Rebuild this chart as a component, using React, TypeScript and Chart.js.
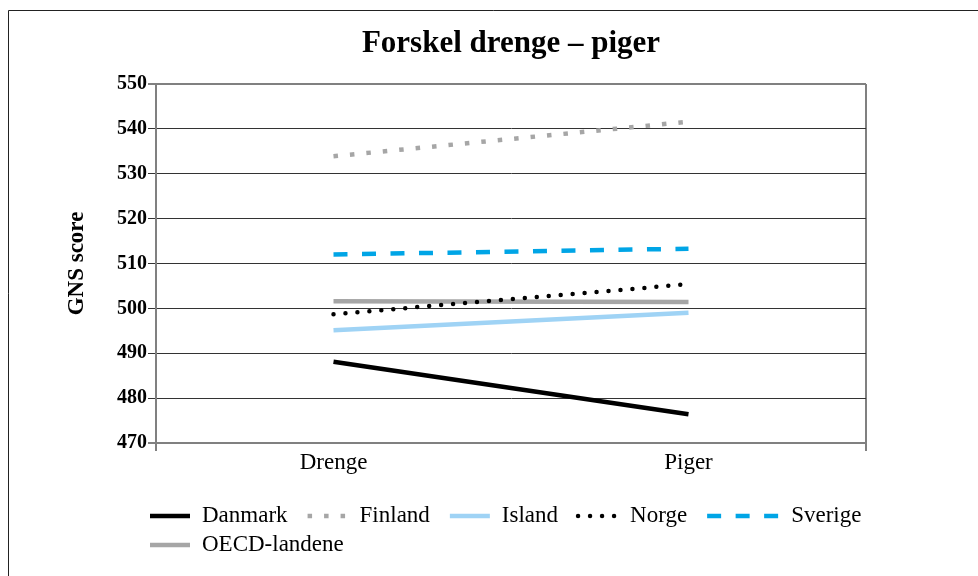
import React, { useEffect, useRef } from "react";
import { Chart, registerables } from "chart.js";

Chart.register(...registerables);

// ---- data ----
const chartTitle = "Forskel drenge – piger";
const yAxisTitle = "GNS score";
const categories = ["Drenge", "Piger"];
const seriesNames = ["Danmark", "Finland", "Island", "Norge", "Sverige", "OECD-landene"];
const danmark = [488.1, 476.4];
const finland = [533.9, 541.6];
const island = [495.1, 499.0];
const norge = [498.7, 505.4];
const sverige = [512.0, 513.3];
const oecd = [501.6, 501.4];
const yMin = 470;
const yMax = 550;
const yStep = 10;

const seriesValues = [danmark, finland, island, norge, sverige, oecd];

// ---- styles ----
const FONT = "'Liberation Serif', 'Times New Roman', serif";
const seriesStyles = [
  { color: "#000000", dash: [] as number[], cap: "butt", legendLen: 40 },
  { color: "#a6a6a6", dash: [4.5, 12], cap: "butt", legendLen: 40 },
  { color: "#9fd3f5", dash: [] as number[], cap: "butt", legendLen: 40 },
  { color: "#000000", dash: [0, 12], cap: "round", legendLen: 40 },
  { color: "#00a5e6", dash: [14, 14.5], cap: "butt", legendLen: 72 },
  { color: "#a6a6a6", dash: [] as number[], cap: "butt", legendLen: 40 },
];

const framePlugin = {
  id: "frame",
  beforeDraw(chart: any) {
    const { ctx, width, height } = chart;
    ctx.save();
    ctx.fillStyle = "#ffffff";
    ctx.fillRect(0, 0, width, height);
    ctx.strokeStyle = "#222222";
    ctx.lineWidth = 1;
    ctx.beginPath();
    ctx.moveTo(8.5, height);
    ctx.lineTo(8.5, 10.5);
    ctx.lineTo(width, 10.5);
    ctx.stroke();
    ctx.restore();
  },
};

const legendPlugin = {
  id: "lineLegend",
  afterDraw(chart: any) {
    const ctx = chart.ctx;
    const startX = 150;
    const maxRight = 880;
    const textGap = 12;
    const itemGap = 20;
    const rowGap = 29;
    let x = startX;
    let y = 516;
    ctx.save();
    ctx.font = `23px ${FONT}`;
    ctx.textBaseline = "middle";
    ctx.textAlign = "left";
    chart.data.datasets.forEach((ds: any, i: number) => {
      const len = seriesStyles[i].legendLen;
      const tw = ctx.measureText(ds.label).width;
      const itemW = len + textGap + tw;
      if (x > startX && x + itemW > maxRight) {
        x = startX;
        y += rowGap;
      }
      ctx.beginPath();
      ctx.strokeStyle = ds.borderColor;
      ctx.lineWidth = ds.borderWidth;
      ctx.setLineDash(ds.borderDash || []);
      ctx.lineCap = ds.borderCapStyle || "butt";
      ctx.moveTo(x, y);
      ctx.lineTo(x + len, y);
      ctx.stroke();
      ctx.setLineDash([]);
      ctx.fillStyle = "#000000";
      ctx.fillText(ds.label, x + len + textGap, y);
      x += itemW + itemGap;
    });
    ctx.restore();
  },
};

export default function App() {
  const canvasRef = useRef<HTMLCanvasElement | null>(null);

  useEffect(() => {
    const canvas = canvasRef.current;
    if (!canvas) return;
    const chart = new Chart(canvas, {
      type: "line",
      data: {
        labels: categories,
        datasets: seriesValues.map((vals, i) => ({
          label: seriesNames[i],
          data: vals,
          borderColor: seriesStyles[i].color,
          backgroundColor: seriesStyles[i].color,
          borderWidth: 4.5,
          borderDash: seriesStyles[i].dash,
          borderCapStyle: seriesStyles[i].cap as any,
          pointRadius: 0,
          pointHoverRadius: 0,
          fill: false,
          tension: 0,
        })),
      },
      options: {
        animation: false,
        responsive: false,
        maintainAspectRatio: false,
        events: [],
        layout: { padding: { left: 50, right: 112, top: 0, bottom: 93 } },
        plugins: {
          legend: { display: false },
          tooltip: { enabled: false },
          title: {
            display: true,
            fullSize: false,
            text: chartTitle,
            color: "#000000",
            font: { family: FONT, size: 31, weight: "bold" },
            padding: { top: 25, bottom: 21.8 },
          },
        },
        scales: {
          x: {
            offset: true,
            grid: {
              offset: true,
              drawOnChartArea: true,
              color: (c: any) => (c.index === 1 ? "rgba(0,0,0,0)" : "#808080"),
              lineWidth: 2,
              tickLength: 8,
            },
            border: { color: "#808080", width: 2 },
            ticks: {
              color: "#000000",
              font: { family: FONT, size: 23, lineHeight: 1 },
              padding: 0,
            },
            afterFit: (s: any) => {
              s.height = 40;
            },
          },
          y: {
            min: yMin,
            max: yMax,
            ticks: {
              stepSize: yStep,
              color: "#000000",
              font: { family: FONT, size: 20, weight: "bold" },
              padding: 1,
            },
            grid: {
              color: (c: any) =>
                c.tick && (c.tick.value === yMin || c.tick.value === yMax) ? "#808080" : "#333333",
              lineWidth: (c: any) =>
                c.tick && (c.tick.value === yMin || c.tick.value === yMax) ? 2 : 1,
              tickLength: 8,
            },
            border: { color: "#808080", width: 2 },
            title: {
              display: true,
              text: yAxisTitle,
              color: "#000000",
              font: { family: FONT, size: 23, weight: "bold" },
              padding: { top: 13, bottom: 0 },
            },
            afterFit: (s: any) => {
              s.width = 106;
            },
          },
        },
      },
      plugins: [framePlugin, legendPlugin],
    });
    return () => chart.destroy();
  }, []);

  return (
    <div style={{ position: "fixed", left: 0, top: 0, width: 978, height: 576, background: "#fff" }}>
      <canvas ref={canvasRef} width={978} height={576} style={{ display: "block" }} />
    </div>
  );
}
